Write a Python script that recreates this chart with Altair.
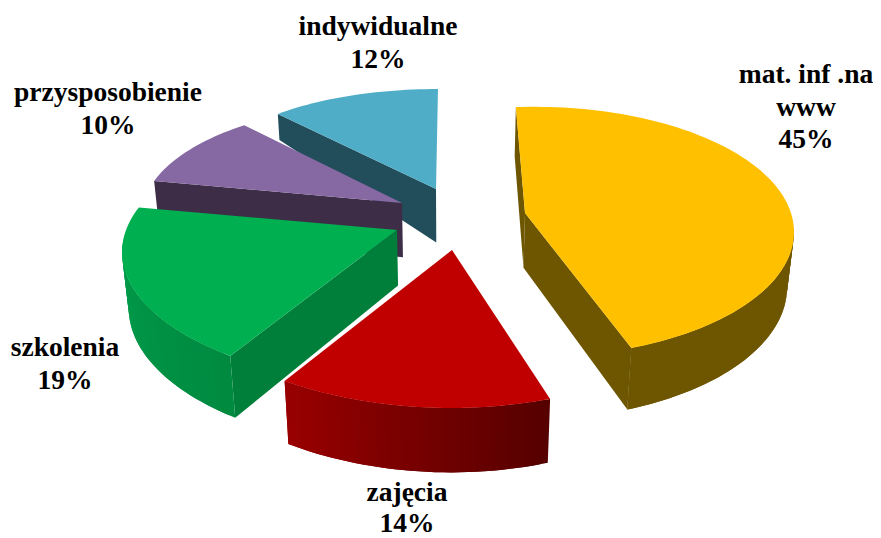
import math
import altair as alt

# ---- chart values ----
categories = ["mat. inf .na www", "zajęcia", "szkolenia", "przysposobienie", "indywidualne"]
shares = [45, 14, 19, 10, 12]

# ---- 3D look (camera fit per exploded slice, colours) ----
SWEEP_PER_POINT = 3.6
layout = {
    "mat. inf .na www": dict(apex=(525, 213), c=(534, 232), r=(260, 125.2), t0=-4, cuts="both",
                             top="#FFC000", cut="#6E5600", arc=("#6E5600", "#6E5600")),
    "zajęcia": dict(apex=(452, 250), c=(451, 230), r=(314, 178), t0=161.6, cuts="none",
                    top="#C00000", cut="#900000", arc=("#560000", "#980000")),
    "szkolenia": dict(apex=(397, 230), c=(432, 252), r=(310, 137), t0=220.6, cuts="start",
                      top="#00B050", cut="#007F3A", arc=("#008A40", "#00A04E")),
    "przysposobienie": dict(apex=(402, 203), c=(390, 215.5), r=(248, 111.6), t0=288, cuts="start",
                            top="#8668A3", cut="#3D2D47", arc=("#3D2D47", "#3D2D47")),
    "indywidualne": dict(apex=(436, 189), c=(438, 181), r=(234, 92), t0=316.8, cuts="start",
                         top="#4FADC8", cut="#224D5B", arc=("#224D5B", "#224D5B"), d0=26),
}
draw_order = ["indywidualne", "przysposobienie", "szkolenia", "mat. inf .na www", "zajęcia"]
label_lines = {
    "mat. inf .na www": (["mat. inf .na", "www"], 806, 75, 32.5),
    "zajęcia": (["zajęcia"], 407, 493, 31),
    "szkolenia": (["szkolenia"], 65, 348, 32.5),
    "przysposobienie": (["przysposobienie"], 108, 93, 32.5),
    "indywidualne": (["indywidualne"], 378, 27, 32.5),
}


def depth_at(y):
    return 44 + 0.05 * y


def down(p, d=None):
    d = depth_at(p[1]) if d is None else d
    return (p[0] + (450 - p[0]) * 0.02 * d / 55, p[1] + d)


def mix(c1, c2, f):
    a = [int(c1[i:i + 2], 16) for i in (1, 3, 5)]
    b = [int(c2[i:i + 2], 16) for i in (1, 3, 5)]
    return "#%02x%02x%02x" % tuple(round(x + (y - x) * f) for x, y in zip(a, b))


def feature(points, fill):
    ring = [list(p) for p in points] + [list(points[0])]
    return {"type": "Feature", "properties": {"fill": fill},
            "geometry": {"type": "Polygon", "coordinates": [ring]}}


features = []
share_by_name = dict(zip(categories, shares))
for name in draw_order:
    L = layout[name]
    sweep = share_by_name[name] * SWEEP_PER_POINT
    n = max(12, int(sweep / 1.5))
    ts = [L["t0"] + sweep * i / n for i in range(n + 1)]
    arc = [(L["c"][0] + L["r"][0] * math.sin(math.radians(t)),
            L["c"][1] - L["r"][1] * math.cos(math.radians(t))) for t in ts]
    apex = L["apex"]
    d0 = L.get("d0")
    # cut faces that face the viewer
    if L["cuts"] in ("start", "both"):
        features.append(feature([arc[0], apex, down(apex), down(arc[0], d0)], L["cut"]))
    if L["cuts"] == "both":
        features.append(feature([arc[-1], apex, down(apex), down(arc[-1])], L["cut"]))
    # rim, shaded along the arc; only the part facing the viewer, each strip overlapping the next
    for i in range(n):
        if math.cos(math.radians(ts[i])) > 0.03 and math.cos(math.radians(ts[i + 1])) > 0.03:
            continue
        col = mix(L["arc"][0], L["arc"][1], i / (n - 1))
        j = min(i + 2, n)
        strip = arc[i:j + 1]
        features.append(feature(strip + [down(p) for p in reversed(strip)], col))
    # top
    features.append(feature([apex] + arc, L["top"]))

labels = []
for name in categories:
    lines, x, y, gap = label_lines[name]
    for i, t in enumerate(lines + [f"{share_by_name[name]}%"]):
        labels.append({"t": t, "x": x, "y": y + i * gap})

projection = alt.Projection(type="identity", scale=1, translate=[-8, -8])

shapes = alt.Chart(alt.Data(values=features)).mark_geoshape(strokeWidth=0).encode(
    color=alt.Color("properties.fill:N", scale=None),
)
text = alt.Chart(alt.Data(values=labels)).mark_text(
    font="Liberation Serif", fontWeight="bold", fontSize=27.5, color="black", baseline="middle", align="center"
).encode(longitude="x:Q", latitude="y:Q", text="t:N")

chart = alt.layer(shapes, text).properties(
    width=865, height=530, projection=projection, padding=0, background="white"
).configure_view(stroke=None)

chart.save("out.html", embed_options={"renderer": "svg", "actions": False})
